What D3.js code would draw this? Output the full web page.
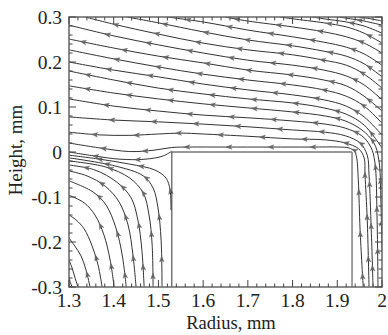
<!DOCTYPE html>
<html><head><meta charset="utf-8">
<script src="https://cdn.jsdelivr.net/npm/d3@7"></script>
<style>body{margin:0;background:#fff}svg{display:block}</style>
</head><body><svg id="c" width="388" height="335"></svg>
<script>
const xDomain=[1.3,2.0], yDomain=[-0.3,0.3];
const xTicks=[1.3,1.4,1.5,1.6,1.7,1.8,1.9,2.0];
const xTickLabels=["1.3","1.4","1.5","1.6","1.7","1.8","1.9","2"];
const yTicks=[-0.3,-0.2,-0.1,0,0.1,0.2,0.3];
const yTickLabels=["-0.3","-0.2","-0.1","0","0.1","0.2","0.3"];
const xTitle="Radius, mm", yTitle="Height, mm";
const obstacle={r0:1.53,r1:1.933,h0:-0.3,h1:0.0};

// upper streamlines, listed left -> right (flow runs right -> left)
const upperLines=[
[[1.30,0.020],[1.369,0.009],[1.436,0.001],[1.49,0.004],[1.53,0.010],[1.57,0.011],[1.65,0.011],[1.75,0.011],[1.84,0.011],[1.905,0.011],[1.926,0.009],[1.938,0.002],[1.943,-0.011],[1.947,-0.062],[1.951,-0.173],[1.958,-0.300]],
[[1.30,0.044],[1.369,0.038],[1.436,0.037],[1.50,0.040],[1.55,0.042],[1.60,0.040],[1.70,0.035],[1.80,0.029],[1.873,0.027],[1.918,0.020],[1.948,0.007],[1.960,-0.013],[1.962,-0.051],[1.967,-0.151],[1.971,-0.300]],
[[1.30,0.078],[1.40,0.071],[1.50,0.067],[1.60,0.062],[1.70,0.056],[1.80,0.049],[1.873,0.044],[1.918,0.036],[1.951,0.020],[1.967,-0.007],[1.971,-0.051],[1.976,-0.173],[1.980,-0.300]],
[[1.30,0.118],[1.40,0.102],[1.50,0.091],[1.60,0.082],[1.70,0.076],[1.80,0.069],[1.873,0.062],[1.918,0.053],[1.955,0.036],[1.975,0.011],[1.984,-0.022],[1.989,-0.151],[1.991,-0.300]],
[[1.30,0.147],[1.40,0.131],[1.50,0.118],[1.60,0.107],[1.70,0.098],[1.80,0.089],[1.873,0.080],[1.918,0.069],[1.955,0.049],[1.982,0.020],[1.993,-0.018],[1.998,-0.129],[2.0,-0.218]],
[[1.30,0.180],[1.40,0.160],[1.50,0.142],[1.60,0.129],[1.70,0.118],[1.80,0.109],[1.87,0.098],[1.92,0.084],[1.96,0.060],[2.0,0.009]],
[[1.30,0.200],[1.40,0.182],[1.50,0.167],[1.60,0.151],[1.70,0.138],[1.80,0.127],[1.87,0.116],[1.92,0.102],[1.96,0.078],[2.0,0.038]],
[[1.30,0.227],[1.40,0.207],[1.50,0.189],[1.60,0.173],[1.70,0.160],[1.80,0.149],[1.87,0.138],[1.92,0.124],[1.96,0.102],[2.0,0.064]],
[[1.30,0.251],[1.40,0.231],[1.50,0.213],[1.60,0.198],[1.70,0.182],[1.80,0.171],[1.87,0.160],[1.92,0.147],[1.96,0.124],[2.0,0.091]],
[[1.30,0.282],[1.40,0.258],[1.50,0.238],[1.60,0.220],[1.70,0.204],[1.80,0.193],[1.87,0.182],[1.92,0.169],[1.96,0.149],[2.0,0.116]],
[[1.336,0.300],[1.40,0.284],[1.50,0.262],[1.60,0.242],[1.70,0.227],[1.80,0.216],[1.87,0.204],[1.92,0.193],[1.96,0.173],[2.0,0.142]],
[[1.430,0.300],[1.50,0.287],[1.60,0.267],[1.70,0.249],[1.80,0.236],[1.87,0.224],[1.92,0.213],[1.96,0.196],[2.0,0.167]],
[[1.519,0.300],[1.60,0.289],[1.70,0.271],[1.80,0.256],[1.87,0.244],[1.92,0.233],[1.96,0.218],[2.0,0.193]],
[[1.649,0.300],[1.70,0.291],[1.80,0.278],[1.87,0.267],[1.92,0.256],[1.96,0.242],[2.0,0.220]],
[[1.772,0.300],[1.80,0.296],[1.87,0.287],[1.92,0.278],[1.96,0.264],[2.0,0.242]],
[[1.844,0.300],[1.87,0.296],[1.92,0.289],[1.96,0.280],[2.0,0.264]],
[[1.902,0.300],[1.93,0.296],[1.96,0.291],[2.0,0.282]],
[[1.947,0.300],[1.975,0.296],[2.0,0.291]]
];

// lower-left streamlines, listed in flow order (up from the bottom, out to the left)
const lowerLines=[
[[1.307,-0.300],[1.302,-0.287],[1.300,-0.278]],
[[1.320,-0.300],[1.313,-0.278],[1.307,-0.258],[1.300,-0.240]],
[[1.347,-0.300],[1.338,-0.262],[1.327,-0.231],[1.313,-0.209],[1.300,-0.191]],
[[1.374,-0.300],[1.365,-0.251],[1.351,-0.207],[1.334,-0.171],[1.316,-0.151],[1.300,-0.140]],
[[1.401,-0.300],[1.392,-0.240],[1.378,-0.184],[1.358,-0.140],[1.334,-0.113],[1.300,-0.096]],
[[1.428,-0.300],[1.419,-0.229],[1.405,-0.169],[1.383,-0.118],[1.354,-0.089],[1.300,-0.064]],
[[1.450,-0.300],[1.443,-0.229],[1.432,-0.162],[1.412,-0.111],[1.381,-0.076],[1.340,-0.053],[1.300,-0.042]],
[[1.468,-0.300],[1.463,-0.218],[1.454,-0.151],[1.439,-0.102],[1.407,-0.067],[1.358,-0.040],[1.300,-0.029]],
[[1.488,-0.300],[1.486,-0.207],[1.479,-0.140],[1.466,-0.091],[1.436,-0.058],[1.381,-0.033],[1.300,-0.020]],
[[1.508,-0.300],[1.506,-0.196],[1.499,-0.124],[1.488,-0.080],[1.466,-0.053],[1.403,-0.031],[1.300,-0.013]],
[[1.528,-0.129],[1.526,-0.084],[1.517,-0.058],[1.492,-0.040],[1.436,-0.027],[1.369,-0.016],[1.300,-0.007]],
[[1.530,0.002],[1.510,-0.009],[1.470,-0.016],[1.414,-0.016],[1.358,-0.009],[1.300,0.000]]
];

const svg=d3.select("#c");
const x=d3.scaleLinear().domain(xDomain).range([69,382]);
const y=d3.scaleLinear().domain(yDomain).range([287,17]);
const font="'Liberation Serif','Times New Roman',serif";

svg.append("defs").append("clipPath").attr("id","plot")
  .append("rect").attr("x",x(xDomain[0])).attr("y",y(yDomain[1]))
  .attr("width",x(xDomain[1])-x(xDomain[0])).attr("height",y(yDomain[0])-y(yDomain[1]));

const g=svg.append("g").attr("clip-path","url(#plot)");
const line=d3.line().x(d=>x(d[0])).y(d=>y(d[1])).curve(d3.curveCatmullRom.alpha(0.5));

const flows=upperLines.map(l=>l.slice().reverse()).concat(lowerLines);
const paths=g.selectAll("path.s").data(flows).join("path").attr("class","s")
  .attr("d",line).attr("fill","none").attr("stroke","#333").attr("stroke-width",1);

// arrowheads along each streamline in flow direction
const arrowG=g.append("g");
paths.each(function(d,i){
  const L=this.getTotalLength();
  const step=42;
  let s=14+((i*17)%26);
  for(;s<L-8;s+=step){
    const p=this.getPointAtLength(s), q=this.getPointAtLength(Math.min(L,s+1.5));
    const a=Math.atan2(q.y-p.y,q.x-p.x)*180/Math.PI;
    arrowG.append("path").attr("d","M0,0L-6,-2.3L-4.5,0L-6,2.3Z")
      .attr("transform",`translate(${p.x},${p.y}) rotate(${a})`)
      .attr("fill","#666").attr("stroke","#666").attr("stroke-width",0.4);
  }
});

// obstacle outline
const o=svg.append("g").attr("fill","none");
o.append("path").attr("d",`M${x(obstacle.r0)},${y(obstacle.h0)}V${y(obstacle.h1)}H${x(obstacle.r1)}`)
  .attr("stroke","#333").attr("stroke-width",1);
o.append("path").attr("d",`M${x(obstacle.r1)},${y(obstacle.h1)}V${y(obstacle.h0)}`)
  .attr("stroke","#888").attr("stroke-width",1.6);

// frame
svg.append("rect").attr("x",x(xDomain[0])).attr("y",y(yDomain[1]))
  .attr("width",x(xDomain[1])-x(xDomain[0])).attr("height",y(yDomain[0])-y(yDomain[1]))
  .attr("fill","none").attr("stroke","#666").attr("stroke-width",1.5);

// ticks
const tk=svg.append("g").attr("stroke","#444").attr("stroke-width",1);
const xMinor=d3.range(0,36).map(k=>1.3+k*0.02);
const yMinor=d3.range(0,31).map(k=>-0.3+k*0.02);
xMinor.forEach((v,k)=>{const len=k%5===0?7:3.5;
  tk.append("line").attr("x1",x(v)).attr("x2",x(v)).attr("y1",y(-0.3)).attr("y2",y(-0.3)-len);
  tk.append("line").attr("x1",x(v)).attr("x2",x(v)).attr("y1",y(0.3)).attr("y2",y(0.3)+len);});
yMinor.forEach((v,k)=>{const len=k%5===0?7:3.5;
  tk.append("line").attr("y1",y(v)).attr("y2",y(v)).attr("x1",x(1.3)).attr("x2",x(1.3)+len);
  tk.append("line").attr("y1",y(v)).attr("y2",y(v)).attr("x1",x(2.0)).attr("x2",x(2.0)-len);});

// tick labels
svg.append("g").selectAll("text").data(xTicks).join("text")
  .attr("x",d=>x(d)).attr("y",307).attr("text-anchor","middle")
  .attr("font-family",font).attr("font-size",19.5).attr("fill","#222")
  .text((d,i)=>xTickLabels[i]);
svg.append("g").selectAll("text").data(yTicks).join("text")
  .attr("x",62).attr("y",d=>y(d)+7).attr("text-anchor","end")
  .attr("font-family",font).attr("font-size",19.5).attr("fill","#222")
  .text((d,i)=>yTickLabels[i]);

// titles
svg.append("text").attr("x",231).attr("y",329).attr("text-anchor","middle")
  .attr("font-family",font).attr("font-size",18.5).attr("fill","#222").text(xTitle);
svg.append("text").attr("transform","translate(22,150) rotate(-90)").attr("text-anchor","middle")
  .attr("font-family",font).attr("font-size",19).attr("fill","#222").text(yTitle);
</script></body></html>
